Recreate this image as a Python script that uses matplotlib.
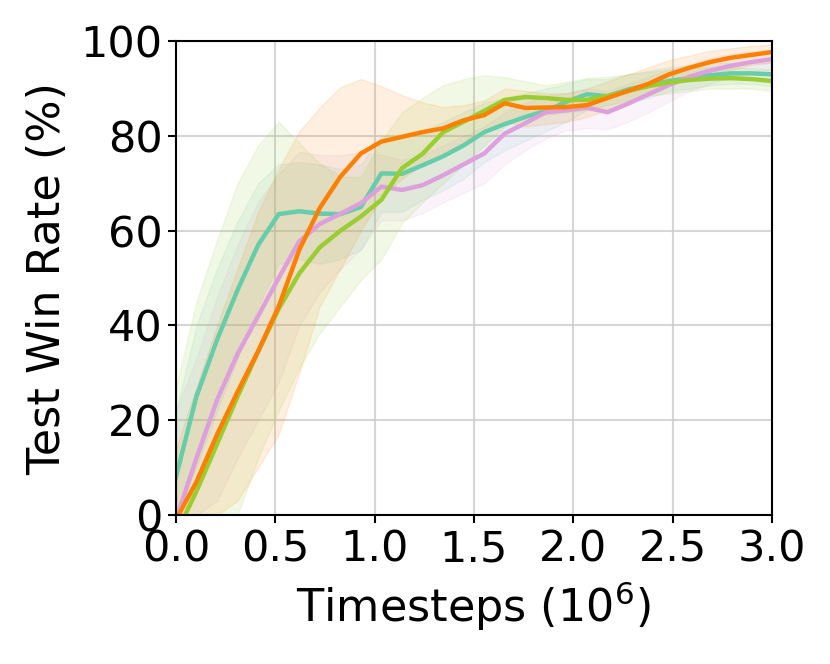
import matplotlib
matplotlib.use("Agg")
import matplotlib.pyplot as plt
import numpy as np

# Timesteps (in 1e6)
x = [0.0, 0.103, 0.207, 0.310, 0.414, 0.517, 0.621, 0.724, 0.828, 0.931,
     1.034, 1.138, 1.241, 1.345, 1.448, 1.552, 1.655, 1.759, 1.862, 1.966,
     2.069, 2.172, 2.276, 2.379, 2.483, 2.586, 2.690, 2.793, 2.897, 3.0]

teal_mean = [8, 25, 37, 47.5, 57, 63.5, 64.1, 63.6, 63.5, 65,
             72.1, 72, 73.8, 75.7, 78, 80.8, 82.5, 84, 85.3, 87.2,
             88.8, 88.4, 89.8, 90.8, 91.6, 92.2, 92.8, 93.2, 93.2, 93]
teal_low = [0, 10, 22, 33, 44, 53, 54, 53, 54, 56,
            64, 64, 66.5, 68.5, 71, 74.5, 77, 79, 81, 83,
            85.5, 85, 87, 88, 89.5, 90, 90.7, 91, 91, 90.5]
teal_high = [22, 40, 52, 62, 70, 74, 74.5, 74, 73, 74,
             80, 80, 81, 83, 85, 87, 88, 89, 90, 91,
             92, 92, 93, 93.8, 94.5, 95, 95.3, 95.5, 95.5, 95.5]

orange_mean = [-1, 7, 17, 26, 34.6, 44, 56, 64.8, 71.4, 76.3,
               78.8, 79.8, 80.8, 81.6, 83.3, 84.4, 86.9, 85.9, 86, 86.1,
               86.5, 88, 89.5, 91, 93, 94.4, 95.6, 96.5, 97.1, 97.7]
orange_low = [0, 0, 0, 3, 10, 17, 30, 44, 52, 60,
              67, 71, 74, 76, 79, 81, 83, 82, 82.5, 83,
              84, 85.5, 87, 88.5, 90.5, 92, 93, 94, 95, 95.5]
orange_high = [14, 27, 40, 52, 64, 73, 81, 86, 90.3, 92,
               90.5, 88.6, 87.1, 86.1, 86.5, 87.5, 90, 89.5, 89, 89,
               90, 91.5, 93, 94.5, 96, 97, 98, 98.5, 99, 99.3]

pink_mean = [-1, 12, 24.3, 34, 42, 50, 57.8, 61.4, 63.6, 65.8,
             69.3, 68.6, 69.6, 71.7, 74, 76.3, 80.5, 82.7, 85, 85.4,
             86, 85, 86.8, 88.8, 90.8, 92.5, 93.8, 94.8, 95.6, 96.2]
pink_low = [0, 0, 3, 12, 20, 28, 40, 47, 52, 56,
            62.2, 62.2, 63.7, 66, 68, 70, 74, 77, 79.5, 81.2,
            81.6, 81.4, 83, 85, 87.3, 89.5, 91, 92.5, 93.5, 94]
pink_high = [22, 33, 46, 57, 66, 72, 76.6, 76, 75.9, 76.6,
             76, 75, 76, 78, 80, 82, 85, 87, 88.5, 89,
             90, 89.5, 91, 92.5, 94, 95, 96.5, 97.3, 97.8, 98.3]

green_mean = [-4, 5, 15, 25, 34.5, 43.5, 51, 56.5, 60, 63,
              66.5, 73.2, 76.2, 80.8, 83, 85.3, 87.6, 88.2, 88, 87.6,
              87.6, 88.4, 89.5, 90.5, 91.3, 91.8, 92.1, 92.2, 92, 91.6]
green_low = [0, 0, 0, 0, 12, 22, 31, 38.4, 44, 49.6,
             54, 61.6, 66, 70, 74, 78, 82, 84, 84.5, 85,
             85.5, 86.5, 87.5, 88.5, 89, 89.5, 90, 90, 90, 89.5]
green_high = [27, 45, 58, 70, 78, 83, 78.5, 74.2, 71.5, 71.3,
              79, 85, 88, 90.7, 92, 92.8, 92.4, 91.5, 90.7, 91.4,
              92.2, 92.5, 93, 93.5, 94, 94.3, 94.5, 94.5, 94.3, 94]

series = [
    (teal_mean, teal_low, teal_high, "#66CDAA"),
    (pink_mean, pink_low, pink_high, "#DDA0DD"),
    (orange_mean, orange_low, orange_high, "#FF8000"),
    (green_mean, green_low, green_high, "#9ACD32"),
]

fig = plt.figure(figsize=(8.3, 6.64), dpi=100)
ax = fig.add_axes([0.212, 0.2244, 0.718, 0.7136])

for mean, low, high, c in series:
    ax.fill_between(x, low, high, color=c, alpha=0.12, linewidth=1)
for mean, low, high, c in [series[0], series[1], series[3], series[2]]:
    ax.plot(x, mean, color=c, lw=3.2)

ax.set_xlim(0, 3.0)
ax.set_ylim(0, 100)
ax.set_xticks([0.0, 0.5, 1.0, 1.5, 2.0, 2.5, 3.0])
ax.set_xticklabels(["0.0", "0.5", "1.0", "1.5", "2.0", "2.5", "3.0"])
ax.set_yticks([0, 20, 40, 60, 80, 100])
ax.tick_params(labelsize=31, width=1.5, length=6)
ax.tick_params(axis="x", pad=4)
ax.grid(True, color="#cccccc", lw=1.5, alpha=0.8)
ax.set_axisbelow(True)
for s in ax.spines.values():
    s.set_linewidth(1.5)
ax.set_xlabel("Timesteps ($10^6$)", fontsize=32, labelpad=6)
ax.set_ylabel("Test Win Rate (%)", fontsize=32, labelpad=8)

fig.savefig("out.png", dpi=100)
